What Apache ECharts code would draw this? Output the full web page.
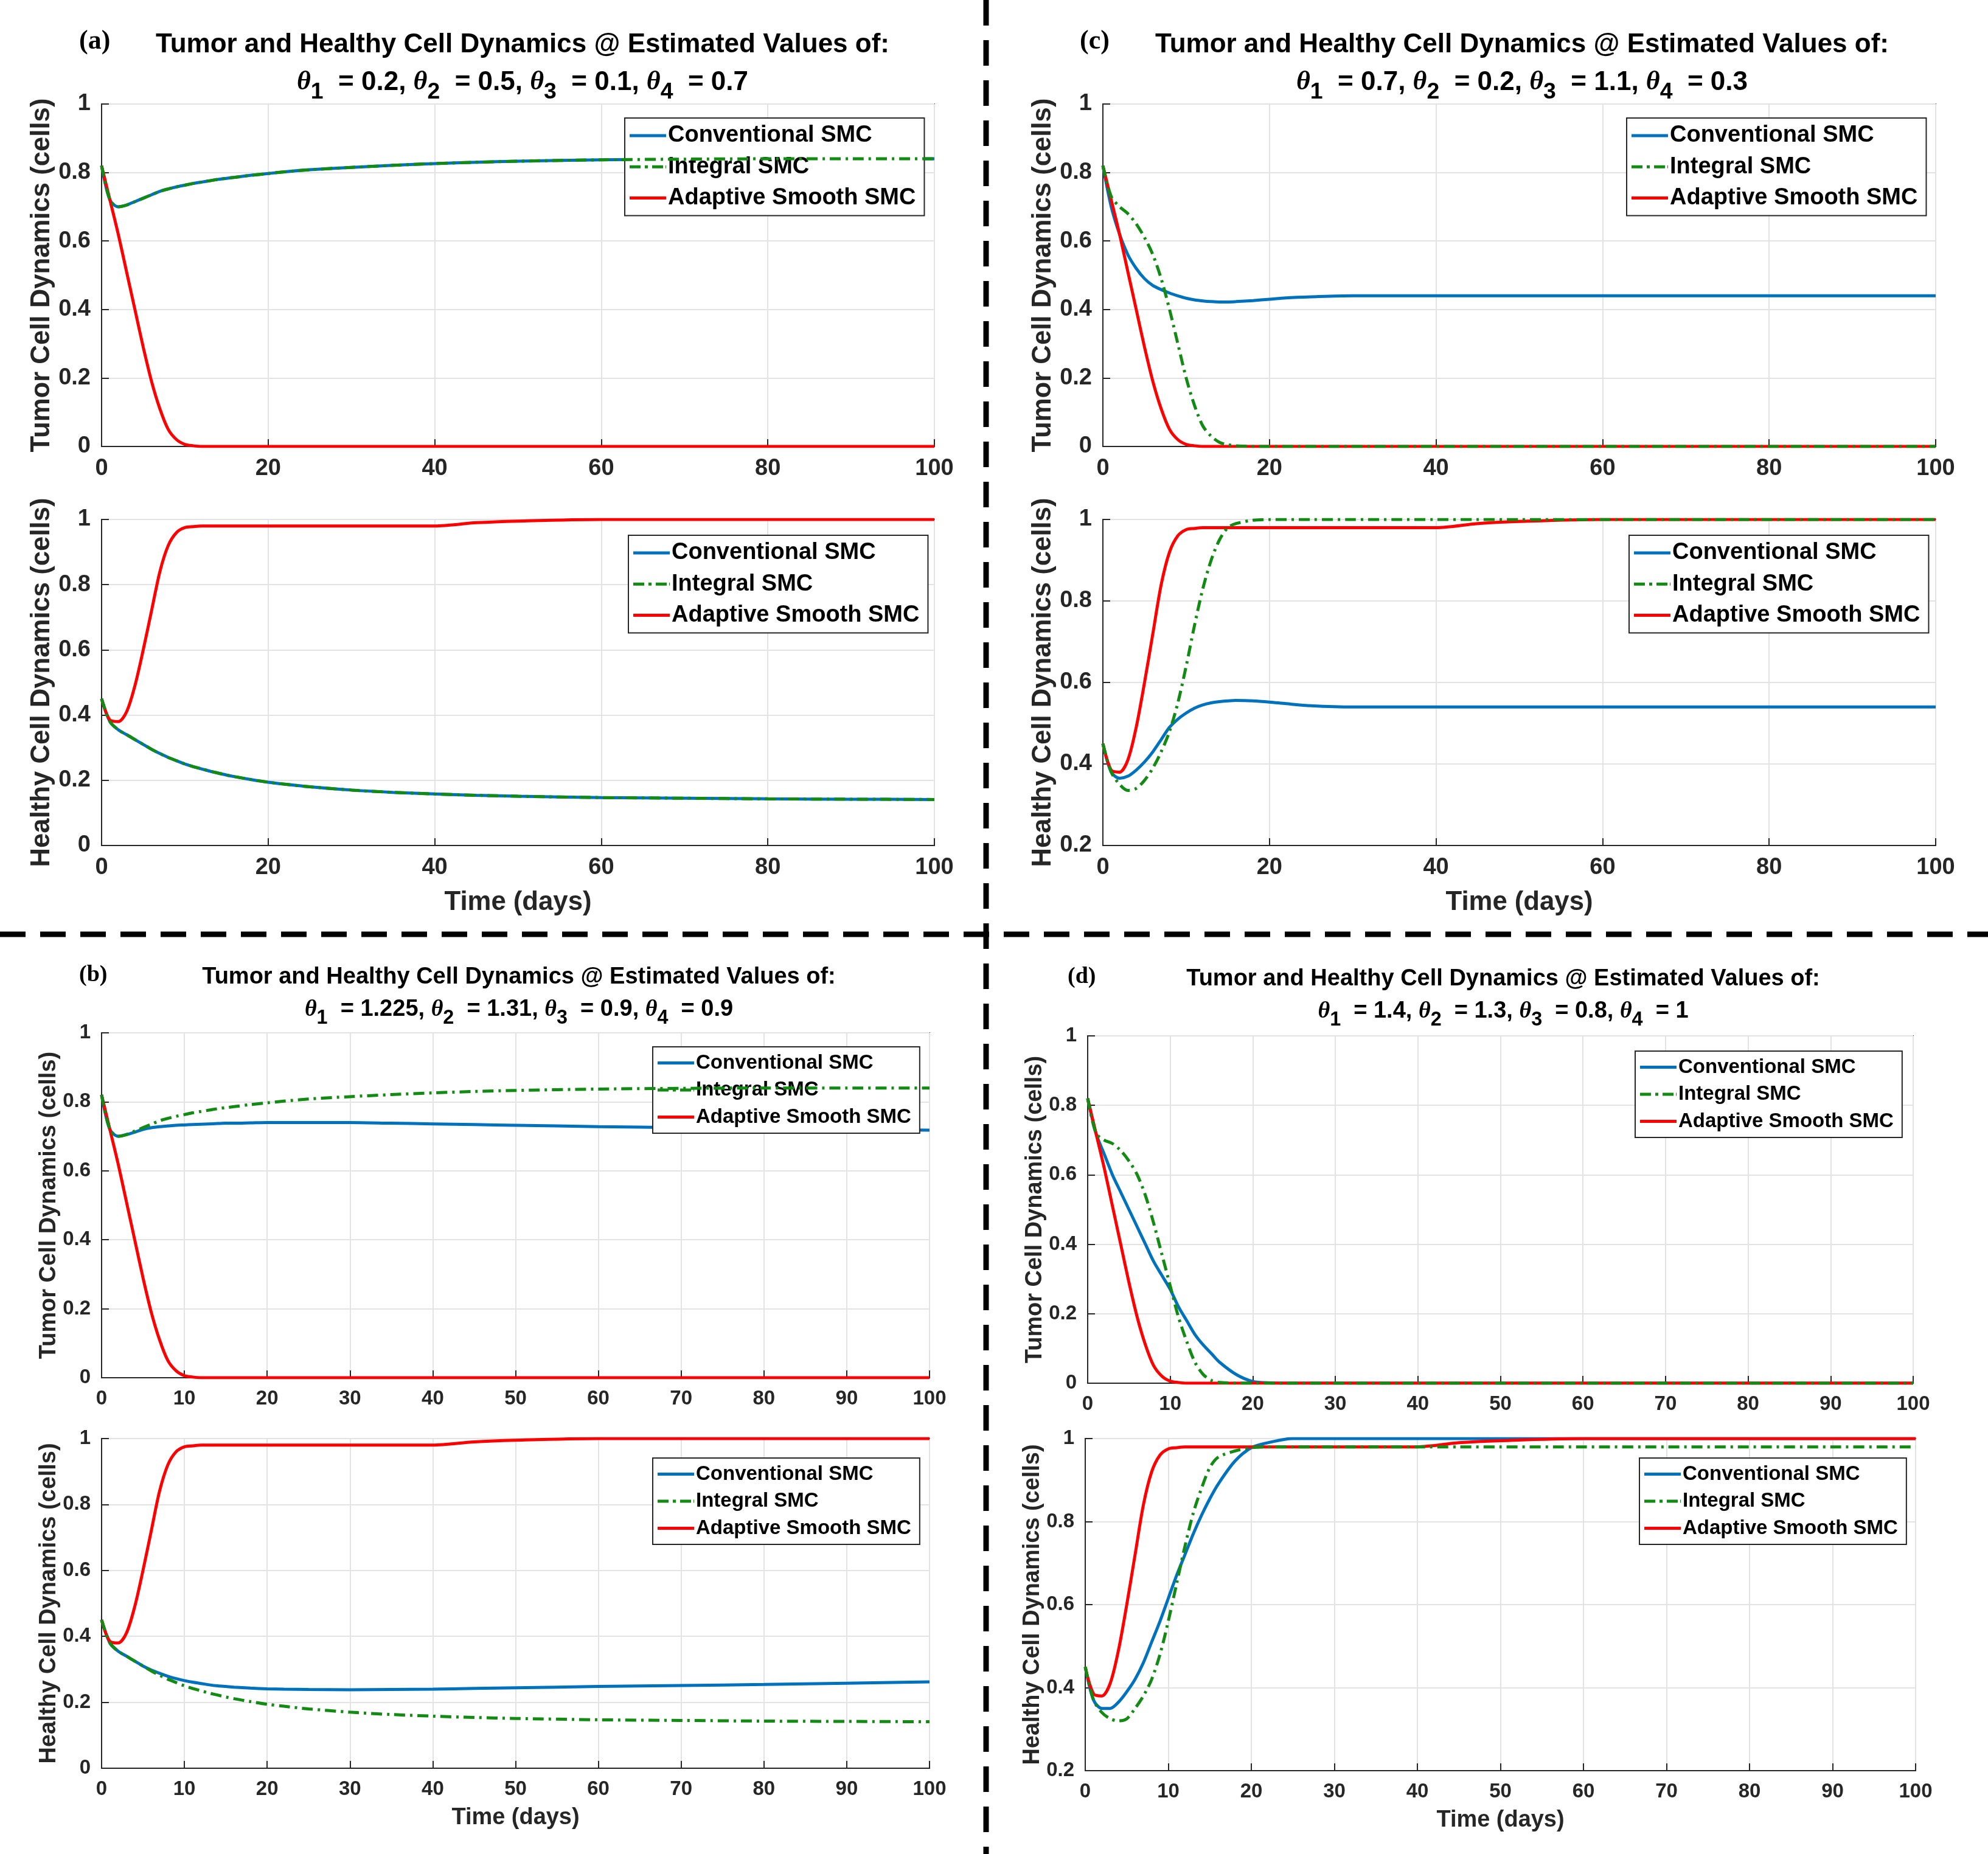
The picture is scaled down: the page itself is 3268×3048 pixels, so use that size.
<!DOCTYPE html>
<html>
<head>
<meta charset="utf-8">
<script src="https://cdn.jsdelivr.net/npm/echarts@6/dist/echarts.min.js"></script>
<style>
  html, body { margin: 0; padding: 0; background: #fff; }
  #container { width: 3268px; height: 3048px; }
</style>
</head>
<body>
<div id="container"></div>
<script type="text/javascript">
// time samples (days)
var t = [0,1,2,3,4,5,6,7,8,9,10,11,12,13,14,15,16,18,20,22,25,30,35,40,45,50,60,70,80,90,100];

// shared curves
var tumorBase = [0.82,0.72,0.70,0.705,0.715,0.725,0.735,0.745,0.752,0.758,0.763,0.768,0.772,0.776,0.780,0.783,0.786,0.792,0.797,0.802,0.808,0.815,0.821,0.826,0.830,0.833,0.837,0.839,0.840,0.840,0.840];
var tumorAdaptive = [0.82,0.72,0.62,0.51,0.40,0.29,0.19,0.11,0.05,0.02,0.006,0.002,0,0,0,0,0,0,0,0,0,0,0,0,0,0,0,0,0,0,0];
var healthyBase = [0.45,0.38,0.355,0.34,0.325,0.31,0.295,0.282,0.27,0.26,0.25,0.242,0.235,0.228,0.222,0.216,0.211,0.202,0.194,0.188,0.180,0.170,0.163,0.158,0.154,0.151,0.147,0.145,0.143,0.142,0.141];
var healthyAdaptive = [0.45,0.385,0.38,0.41,0.49,0.60,0.72,0.84,0.92,0.96,0.975,0.978,0.98,0.98,0.98,0.98,0.98,0.98,0.98,0.98,0.98,0.98,0.98,0.98,0.99,0.995,1,1,1,1,1];

// panel (c)
var tumorConvC = [0.82,0.70,0.62,0.56,0.52,0.49,0.47,0.458,0.448,0.44,0.433,0.428,0.425,0.423,0.422,0.422,0.423,0.426,0.43,0.434,0.437,0.44,0.44,0.44,0.44,0.44,0.44,0.44,0.44,0.44,0.44];
var tumorIntC = [0.82,0.73,0.70,0.68,0.65,0.61,0.56,0.49,0.40,0.30,0.20,0.12,0.06,0.03,0.012,0.005,0.002,0,0,0,0,0,0,0,0,0,0,0,0,0,0];
var healthyConvC = [0.45,0.38,0.365,0.37,0.385,0.405,0.43,0.46,0.49,0.51,0.525,0.537,0.545,0.55,0.553,0.555,0.556,0.555,0.552,0.548,0.543,0.54,0.54,0.54,0.54,0.54,0.54,0.54,0.54,0.54,0.54];
var healthyIntC = [0.45,0.38,0.35,0.335,0.34,0.36,0.39,0.43,0.48,0.55,0.64,0.74,0.83,0.90,0.95,0.98,0.99,0.998,1,1,1,1,1,1,1,1,1,1,1,1,1];

// panel (b)
var tumorConvB = [0.82,0.72,0.70,0.705,0.712,0.72,0.725,0.728,0.73,0.732,0.733,0.734,0.735,0.736,0.737,0.738,0.738,0.739,0.74,0.74,0.74,0.74,0.738,0.736,0.734,0.732,0.728,0.725,0.722,0.72,0.718];
var healthyConvB = [0.45,0.38,0.355,0.34,0.325,0.31,0.298,0.288,0.279,0.272,0.266,0.261,0.257,0.253,0.25,0.248,0.246,0.243,0.241,0.24,0.239,0.238,0.239,0.24,0.242,0.244,0.248,0.251,0.254,0.258,0.262];

// panel (d)
var tumorConvD = [0.82,0.72,0.66,0.60,0.55,0.50,0.45,0.40,0.35,0.31,0.27,0.22,0.18,0.14,0.11,0.085,0.06,0.025,0.005,0.001,0,0,0,0,0,0,0,0,0,0,0];
var tumorIntD = [0.82,0.72,0.70,0.69,0.67,0.64,0.60,0.54,0.46,0.37,0.28,0.19,0.12,0.06,0.025,0.008,0.002,0,0,0,0,0,0,0,0,0,0,0,0,0,0];
var healthyConvD = [0.45,0.37,0.35,0.35,0.365,0.39,0.42,0.46,0.51,0.56,0.615,0.67,0.72,0.77,0.815,0.855,0.89,0.945,0.978,0.99,1,1,1,1,1,1,1,1,1,1,1];
var healthyIntD = [0.45,0.37,0.34,0.325,0.32,0.325,0.35,0.38,0.42,0.48,0.56,0.65,0.74,0.82,0.88,0.93,0.955,0.97,0.978,0.98,0.98,0.98,0.98,0.98,0.98,0.98,0.98,0.98,0.98,0.98,0.98];

var names = ['Conventional SMC', 'Integral SMC', 'Adaptive Smooth SMC'];

// panel definitions: grid box, y range, x interval, curves, legend pos, font size
var panels = [
  {g:[167,171,1369,563], ymin:0, xi:20, ys:[tumorBase,tumorBase,tumorAdaptive], yname:'Tumor Cell Dynamics (cells)', lg:[1027,194], fs:38, xname:''},
  {g:[167,854,1369,536], ymin:0, xi:20, ys:[healthyBase,healthyBase,healthyAdaptive], yname:'Healthy Cell Dynamics (cells)', lg:[1033,880], fs:38, xname:'Time (days)'},
  {g:[1813,171,1369,563], ymin:0, xi:20, ys:[tumorConvC,tumorIntC,tumorAdaptive], yname:'Tumor Cell Dynamics (cells)', lg:[2674,194], fs:38, xname:''},
  {g:[1813,854,1369,536], ymin:0.2, xi:20, ys:[healthyConvC,healthyIntC,healthyAdaptive], yname:'Healthy Cell Dynamics (cells)', lg:[2678,880], fs:38, xname:'Time (days)'},
  {g:[167,1698,1361,567], ymin:0, xi:10, ys:[tumorConvB,tumorBase,tumorAdaptive], yname:'Tumor Cell Dynamics (cells)', lg:[1073,1721], fs:33, xname:''},
  {g:[167,2365,1361,542], ymin:0, xi:10, ys:[healthyConvB,healthyBase,healthyAdaptive], yname:'Healthy Cell Dynamics (cells)', lg:[1073,2397], fs:33, xname:'Time (days)'},
  {g:[1788,1703,1357,571], ymin:0, xi:10, ys:[tumorConvD,tumorIntD,tumorAdaptive], yname:'Tumor Cell Dynamics (cells)', lg:[2688,1728], fs:33, xname:''},
  {g:[1784,2365,1365,546], ymin:0.2, xi:10, ys:[healthyConvD,healthyIntD,healthyAdaptive], yname:'Healthy Cell Dynamics (cells)', lg:[2695,2397], fs:33, xname:'Time (days)'}
];

var FONT = 'Liberation Sans Narrow, Liberation Sans, Arial, sans-serif';
var colors = ['#0072BD', '#138a13', '#ff0000'];
var lineTypes = ['solid', [18, 8, 4, 8], 'solid'];
var solidIcon = 'path://M0,0 L60,0 L60,5 L0,5 Z';
var dashIcon = 'path://M0,0 L18,0 L18,5 L0,5 Z M25,0 L30,0 L30,5 L25,5 Z M37,0 L55,0 L55,5 L37,5 Z M59,0 L60,0 L60,5 L59,5 Z';
var legendIcons = [solidIcon, dashIcon, solidIcon];

var grid = [], xAxis = [], yAxis = [], series = [], legend = [];
panels.forEach(function (p, i) {
  grid.push({left:p.g[0], top:p.g[1], width:p.g[2], height:p.g[3], show:true, borderColor:'#262626', borderWidth:2, backgroundColor:'#fff'});
  xAxis.push({
    type:'value', gridIndex:i, min:0, max:100, interval:p.xi,
    name:p.xname, nameLocation:'middle', nameGap:p.fs*1.9,
    nameTextStyle:{fontFamily:FONT, fontWeight:'bold', fontSize:p.fs*1.15, color:'#262626'},
    axisLine:{lineStyle:{color:'#262626', width:2}},
    axisTick:{inside:true, length:12, lineStyle:{color:'#262626', width:2}},
    axisLabel:{fontFamily:FONT, fontWeight:'bold', fontSize:p.fs, color:'#262626', margin:18},
    splitLine:{show:true, lineStyle:{color:'#e3e3e3', width:2}}
  });
  yAxis.push({
    type:'value', gridIndex:i, min:p.ymin, max:1, interval:0.2,
    name:p.yname, nameLocation:'middle', nameRotate:90, nameGap:p.fs*2.0,
    nameTextStyle:{fontFamily:FONT, fontWeight:'bold', fontSize:p.fs*1.15, color:'#262626'},
    axisLine:{show:true, lineStyle:{color:'#262626', width:2}},
    axisTick:{inside:true, length:12, lineStyle:{color:'#262626', width:2}},
    axisLabel:{fontFamily:FONT, fontWeight:'bold', fontSize:p.fs, color:'#262626', margin:18,
      formatter:function (v) { return String(Math.round(v * 10) / 10); }},
    splitLine:{show:true, lineStyle:{color:'#e3e3e3', width:2}}
  });
  p.ys.forEach(function (vals, k) {
    series.push({
      name:names[k], type:'line', xAxisIndex:i, yAxisIndex:i,
      data:t.map(function (x, j) { return [x, vals[j]]; }),
      smooth:0.3, showSymbol:false, symbol:'none', z:k === 1 ? 4 : 3,
      lineStyle:{color:colors[k], width:5, type:lineTypes[k]},
      itemStyle:{color:colors[k]}
    });
  });
  legend.push({
    data:names.map(function (n, k) { return {name:n, icon:legendIcons[k], itemStyle:{color:colors[k]}}; }),
    orient:'vertical', left:p.lg[0], top:p.lg[1],
    backgroundColor:'#fff', borderColor:'#262626', borderWidth:2,
    padding:[10, 14, 10, 8], itemGap:p.fs*0.35, itemWidth:60, itemHeight:5,
    textStyle:{fontFamily:FONT, fontWeight:'bold', fontSize:p.fs, color:'#000', padding:[0,0,0,-2]},
    selectedMode:false
  });
});

function titleRich(fs) {
  return {
    b:{fontFamily:FONT, fontWeight:'bold', fontSize:fs, color:'#000'},
    th:{fontFamily:'Liberation Serif, serif', fontStyle:'italic', fontWeight:'bold', fontSize:fs, color:'#000'},
    s:{fontFamily:FONT, fontWeight:'bold', fontSize:fs*0.85, color:'#000', padding:[fs*0.75, 0, 0, 0]}
  };
}
function thetaLine(v) {
  var s = '';
  for (var k = 0; k < 4; k++) {
    s += '{th|θ}{s|' + (k + 1) + '}{b|  = ' + v[k] + (k < 3 ? ', ' : '') + '}';
  }
  return s;
}
var titleDefs = [
  {x:854, y:38, lab:'(a)', lx:125, v:['0.2','0.5','0.1','0.7'], fs:44},
  {x:2497, y:38, lab:'(c)', lx:1770, v:['0.7','0.2','1.1','0.3'], fs:44},
  {x:848, y:1575, lab:'(b)', lx:125, v:['1.225','1.31','0.9','0.9'], fs:38},
  {x:2466, y:1578, lab:'(d)', lx:1750, v:['1.4','1.3','0.8','1'], fs:38}
];
var title = [];
titleDefs.forEach(function (d) {
  title.push({
    text:'{b|Tumor and Healthy Cell Dynamics @ Estimated Values of:}\n' + thetaLine(d.v),
    left:d.x, top:d.y, textAlign:'center',
    textStyle:{rich:titleRich(d.fs), lineHeight:d.fs * 1.4}
  });
  title.push({
    text:d.lab, left:d.lx, top:d.y + 4,
    textStyle:{fontFamily:'Liberation Serif, serif', fontWeight:'bold', fontSize:d.fs, color:'#000'}
  });
});

var myChart = echarts.init(document.getElementById('container'), null, {renderer:'canvas'});
myChart.setOption({
  backgroundColor:'#fff',
  animation:false,
  title:title,
  grid:grid, xAxis:xAxis, yAxis:yAxis, legend:legend, series:series,
  graphic:[
    {type:'line', shape:{x1:1621, y1:0, x2:1621, y2:3048}, style:{stroke:'#000', lineWidth:9, lineDash:[42, 24]}},
    {type:'line', shape:{x1:0, y1:1536, x2:3268, y2:1536}, style:{stroke:'#000', lineWidth:9, lineDash:[42, 24]}}
  ]
});
</script>
</body>
</html>
